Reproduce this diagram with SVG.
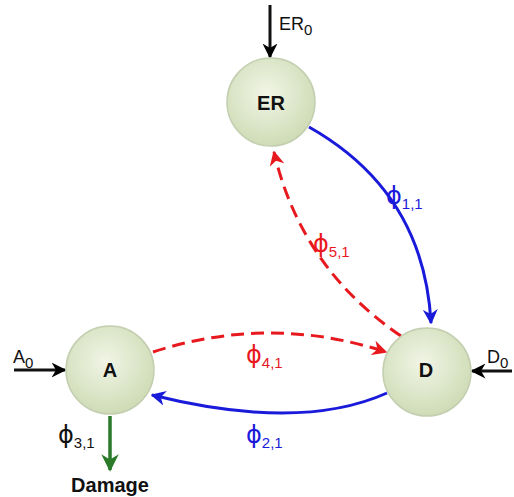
<svg xmlns="http://www.w3.org/2000/svg" width="514" height="497" viewBox="0 0 514 497">
<defs>
<radialGradient id="g" cx="0.45" cy="0.4" r="0.6">
<stop offset="0" stop-color="#f1f5e6"/>
<stop offset="1" stop-color="#cfdcb6"/>
</radialGradient>
<marker id="mk" viewBox="0 0 10 10" refX="9" refY="5" markerWidth="5" markerHeight="5" orient="auto" markerUnits="strokeWidth"><path d="M0,0 L10,5 L0,10 L3,5 Z" fill="#000"/></marker>
<marker id="mb" viewBox="0 0 10 10" refX="9" refY="5" markerWidth="5" markerHeight="5" orient="auto" markerUnits="strokeWidth"><path d="M0,0 L10,5 L0,10 L3,5 Z" fill="#1a1adb"/></marker>
<marker id="mr" viewBox="0 0 10 10" refX="9" refY="5" markerWidth="5" markerHeight="5" orient="auto" markerUnits="strokeWidth"><path d="M0,0 L10,5 L0,10 L3,5 Z" fill="#e8191e"/></marker>
<marker id="mg" viewBox="0 0 10 10" refX="9" refY="5" markerWidth="5" markerHeight="5" orient="auto" markerUnits="strokeWidth"><path d="M0,0 L10,5 L0,10 L3,5 Z" fill="#2a7a2a"/></marker>
</defs>
<style>
.node{fill:url(#g);stroke:#c3cfb0;stroke-width:1.5}
.nl{font-family:"Liberation Sans","Open Sans",sans-serif;font-weight:bold;font-size:20px;text-anchor:middle;fill:#111}
.lb{font-family:"Liberation Sans","Open Sans",sans-serif;font-size:18px}
.phi{font-family:"DejaVu Sans",sans-serif;font-size:24px}
.sub{font-family:"Liberation Sans","Open Sans",sans-serif;font-size:15px}
.blk{stroke:#111;stroke-width:3;fill:none;marker-end:url(#mk)}
.blu{stroke:#1a1adb;stroke-width:3;fill:none;marker-end:url(#mb)}
.red{stroke:#e8191e;stroke-width:3;fill:none;stroke-dasharray:13 7;marker-end:url(#mr)}
.grn{stroke:#2a7a2a;stroke-width:3.5;fill:none;marker-end:url(#mg)}
</style>
<g id="connectors">
<path class="blk" d="M270 5 L270 57"/>
<path class="blk" d="M14 370 L65 370"/>
<path class="blk" d="M512 371 L472 371"/>
<path class="grn" d="M110 416 L110 470"/>
<path class="blu" d="M309 127 Q424 192 431 323"/>
<path class="red" d="M401 336 Q301 268 274 152"/>
<path class="red" d="M153 352 Q270 314 386 352"/>
<path class="blu" d="M387 393 Q300 432 152 395"/>
</g>
<g id="labels">
<text class="lb" x="279" y="30" fill="#111">ER<tspan class="sub" dy="5">0</tspan></text>
<text class="lb" x="13" y="363" fill="#111">A<tspan class="sub" dy="5">0</tspan></text>
<text class="lb" x="487" y="363" fill="#111">D<tspan class="sub" dy="5">0</tspan></text>
<text class="phi" x="386" y="204" fill="#1a1adb">ϕ<tspan class="sub" dy="5">1,1</tspan></text>
<text class="phi" x="313" y="252" fill="#e8191e">ϕ<tspan class="sub" dy="5">5,1</tspan></text>
<text class="phi" x="246" y="363" fill="#e8191e">ϕ<tspan class="sub" dy="5">4,1</tspan></text>
<text class="phi" x="246" y="443" fill="#1a1adb">ϕ<tspan class="sub" dy="5">2,1</tspan></text>
<text class="phi" x="58" y="443" fill="#111">ϕ<tspan class="sub" dy="5">3,1</tspan></text>
<text class="nl" x="110" y="492">Damage</text>
</g>
<g id="ER"><circle class="node" cx="271" cy="102" r="44"/><text class="nl" x="271" y="110">ER</text></g>
<g id="A"><circle class="node" cx="110" cy="370" r="44"/><text class="nl" x="110" y="377">A</text></g>
<g id="D"><circle class="node" cx="427" cy="372" r="44"/><text class="nl" x="426" y="377">D</text></g>
</svg>
